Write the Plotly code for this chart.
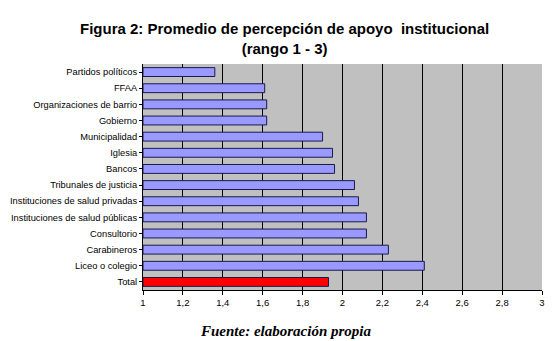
import plotly.graph_objects as go

categories = ["Partidos políticos", "FFAA", "Organizaciones de barrio", "Gobierno",
              "Municipalidad", "Iglesia", "Bancos", "Tribunales de justicia",
              "Instituciones de salud privadas", "Instituciones de salud públicas",
              "Consultorio", "Carabineros", "Liceo o colegio", "Total"]
values = [1.36, 1.61, 1.62, 1.62, 1.90, 1.95, 1.96, 2.06, 2.08, 2.12, 2.12, 2.23, 2.41, 1.93]
colors = ["#9999FF"] * 13 + ["#FF0000"]
tick_vals = [1, 1.2, 1.4, 1.6, 1.8, 2, 2.2, 2.4, 2.6, 2.8, 3]
tick_text = ["1", "1,2", "1,4", "1,6", "1,8", "2", "2,2", "2,4", "2,6", "2,8", "3"]

fig = go.Figure()
fig.add_trace(go.Bar(
    y=categories, x=[v - 1 for v in values], base=1, orientation="h",
    marker=dict(color=colors, line=dict(color="#1a1a4d", width=1)),
    width=0.55, showlegend=False,
))

fig.update_layout(
    width=560, height=341,
    margin=dict(l=143, r=18, t=64, b=51),
    paper_bgcolor="white", plot_bgcolor="#C0C0C0",
    font=dict(family="Liberation Sans, Arial", size=9, color="black"),
    xaxis=dict(range=[1, 3], tickvals=tick_vals, ticktext=tick_text,
               showgrid=True, gridcolor="black", gridwidth=1,
               showline=True, linecolor="black", ticks="outside", ticklen=4,
               tickcolor="black", zeroline=False, automargin=False,
               tickfont=dict(size=9.5)),
    yaxis=dict(categoryorder="array", categoryarray=categories, autorange="reversed",
               showline=True, linecolor="black", ticks="outside", ticklen=3,
               tickcolor="black", showgrid=False, automargin=False,
               tickfont=dict(size=9.3)),
    bargap=0.45,
)
fig.add_annotation(text="<b>Figura 2: Promedio de percepción de apoyo  institucional<br>(rango 1 - 3)</b>",
                   xref="paper", yref="paper", x=0.355, y=1.205, xanchor="center", yanchor="top",
                   showarrow=False, align="center",
                   font=dict(family="Liberation Sans, Arial", size=15, color="black"))
fig.add_annotation(text="<b><i>Fuente: elaboración propia</i></b>", xref="paper", yref="paper",
                   x=0.358, y=-0.135, xanchor="center", yanchor="top", showarrow=False,
                   font=dict(family="Liberation Serif, Times New Roman", size=15, color="black"))
fig.write_html("out.html", post_script="document.body.style.margin='0';",
               config={"displayModeBar": False})
